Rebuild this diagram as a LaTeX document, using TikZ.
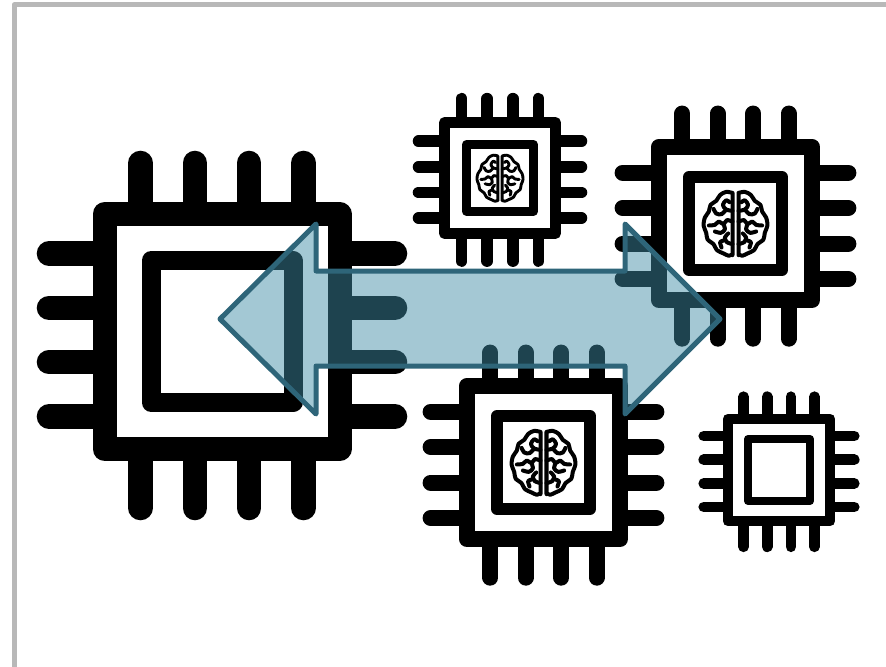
\documentclass[tikz,border=0pt]{standalone}
\usetikzlibrary{calc}
\definecolor{framegray}{HTML}{B8B8B8}
\definecolor{arrowfill}{RGB}{64,141,166}
\definecolor{arrowline}{HTML}{2E6579}
\tikzset{
    frame line/.style={draw=framegray, line width=3.75pt, line join=round},
    chip body/.style={draw=black, line width=#1*18pt, line join=round},
    chip core/.style={draw=black, line width=#1*14.25pt, line join=round},
    chip pin/.style={draw=black, line width=#1*18.4pt, line cap=round},
    brain line/.style={draw=black, line width=#1*4.6pt, line cap=round, line join=round},
    link arrow/.style={draw=arrowline, fill=arrowfill, fill opacity=0.48, draw opacity=1, line width=3.75pt, line join=round},
    pics/chip/.style={code={
        \begin{scope}[scale=#1]
            \foreach \p in {-81.5,-27.2,27.2,81.5} {
                \draw[chip pin=#1] (\p,-110) -- (\p,-168.5);
                \draw[chip pin=#1] (\p,110) -- (\p,176.5);
                \draw[chip pin=#1] (-120,\p+3.5) -- (-173,\p+3.5);
                \draw[chip pin=#1] (120,\p+3.5) -- (173,\p+3.5);
            }
            \draw[chip body=#1, fill=white] (-117.5,-117.5) rectangle (117.5,117.5);
            \draw[chip core=#1, fill=white] (-71,-71) rectangle (71,71);
        \end{scope}
    }},
    pics/brain/.style={code={
        \foreach \m in {1,-1} {
            \begin{scope}[scale=#1*0.51, xscale=\m]
                \draw[brain line=#1] (9,95) -- (9,-92) plot[smooth] coordinates {(9,-92) (28,-95) (46,-86) (58,-68) (75,-56) (80,-36) (92,-18) (96,6) (88,28) (84,48) (66,62) (56,80) (36,90) (20,97) (9,92)};
                \draw[brain line=#1] plot[smooth] coordinates {(9,-38) (28,-42) (38,-56) (28,-70) (18,-64)};
                \draw[brain line=#1] plot[smooth] coordinates {(28,-42) (42,-28) (58,-30) (66,-44)};
                \draw[brain line=#1] plot[smooth] coordinates {(9,-6) (26,-10) (36,2) (50,-6) (62,4) (80,6)};
                \draw[brain line=#1] plot[smooth] coordinates {(36,2) (32,18) (44,28) (62,24)};
                \draw[brain line=#1] plot[smooth] coordinates {(9,62) (26,56) (32,42) (22,30)};
                \draw[brain line=#1] plot[smooth] coordinates {(32,50) (46,56) (42,72)};
            \end{scope}
        }
    }}
}

\begin{document}
\begin{tikzpicture}[x=0.75pt, y=-0.75pt]
    \useasboundingbox (0,0) rectangle (886,667);
    \draw[frame line] (886,5) -- (14,5) -- (14,667);

    \pic (cpubig) at (222,331.5) {chip=1};
    \pic (aitop) at (500,178) {chip=0.471};
    \pic (aitopbrain) at (500,178) {brain=0.471};
    \pic (airight) at (735.5,223.5) {chip=0.6525};
    \pic (airightbrain) at (735.5,223.5) {brain=0.6525};
    \pic (aibottom) at (543.5,462.5) {chip=0.6525};
    \pic (aibottombrain) at (543.5,462.5) {brain=0.6525};
    \pic (cpusmall) at (779,470) {chip=0.435};

    \draw[link arrow] (220,319) -- (316,224) -- (316,271) -- (625,271) -- (625,224) -- (720,319) -- (625,414) -- (625,366) -- (316,366) -- (316,414) -- cycle;
\end{tikzpicture}
\end{document}
